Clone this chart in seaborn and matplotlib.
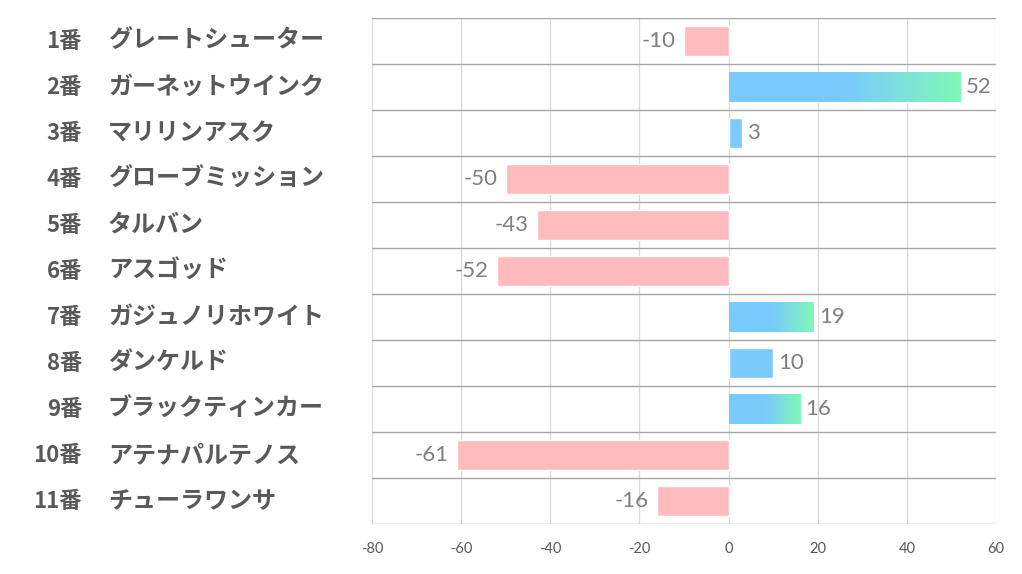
import numpy as np
import pandas as pd
import matplotlib
matplotlib.use("Agg")
import matplotlib.pyplot as plt
import seaborn as sns
from matplotlib.colors import LinearSegmentedColormap

# Data
numbers = ["1番", "2番", "3番", "4番", "5番", "6番", "7番", "8番", "9番", "10番", "11番"]
horses = ["グレートシューター", "ガーネットウインク", "マリリンアスク", "グローブミッション",
          "タルバン", "アスゴッド", "ガジュノリホワイト", "ダンケルド", "ブラックティンカー",
          "アテナパルテノス", "チューラワンサ"]
values = [-10, 52, 3, -50, -43, -52, 19, 10, 16, -61, -16]
xticks = [-80, -60, -40, -20, 0, 20, 40, 60]

sns.set_theme(style="white")
plt.rcParams["font.family"] = ["Noto Sans CJK JP", "DejaVu Sans"]

PINK = "#FFBBBD"
BLUE = "#7ACAFD"
GREEN = "#80F8B6"
LABEL_GREY = "#595959"
VALUE_GREY = "#7F7F7F"

df = pd.DataFrame({"horse": horses, "value": values})
df["sign"] = np.where(df["value"] >= 0, "pos", "neg")

fig = plt.figure(figsize=(10.22, 5.74), dpi=100)
ax = fig.add_axes([372 / 1022, 1 - 524 / 574, 624 / 1022, 506 / 574])

sns.barplot(data=df, x="value", y="horse", hue="sign", palette={"pos": BLUE, "neg": PINK},
            dodge=False, legend=False, width=0.65, saturation=1, ax=ax)

# gradient fill on the longer positive bars (blue -> green over second half)
cmap = LinearSegmentedColormap.from_list("bg", [(0, BLUE), (0.5, BLUE), (1, GREEN)])
grad = np.linspace(0, 1, 256).reshape(1, -1)
for patch in ax.patches:
    w = patch.get_width()
    if w > 12:
        x0, y0, h = patch.get_x(), patch.get_y(), patch.get_height()
        im = ax.imshow(grad, cmap=cmap, aspect="auto", extent=[x0, x0 + w, y0 + h, y0],
                       zorder=patch.get_zorder() + 0.1, interpolation="bicubic")
        im.set_clip_path(patch)

ax.set_xlim(-80, 60)
ax.set_ylim(len(horses) - 0.5, -0.5)

# grid: vertical light lines, horizontal row separators
for xv in xticks:
    ax.axvline(xv, color="#D9D9D9", lw=0.9, zorder=0)
for i in range(len(horses) + 1):
    ax.axhline(i - 0.5, color="#A6A6A6", lw=1.0, zorder=0.5)
for s in ax.spines.values():
    s.set_visible(False)

ax.set_xticks(xticks)
ax.set_xticklabels([str(t) for t in xticks], fontsize=10.5, color=LABEL_GREY,
                   family=["Lato", "DejaVu Sans"])
ax.tick_params(axis="x", length=0, pad=13)
ax.set_yticks([])
ax.set_xlabel("")
ax.set_ylabel("")

# row labels
trans = ax.get_yaxis_transform()
for i, (num, name) in enumerate(zip(numbers, horses)):
    ax.text(-290 / 624, i, num, transform=trans, ha="right", va="center",
            fontsize=16, fontweight="bold", color=LABEL_GREY)
    ax.text(-264 / 624, i, name, transform=trans, ha="left", va="center",
            fontsize=17.3, fontweight="bold", color=LABEL_GREY)

# value labels
for i, v in enumerate(values):
    off = 4 if v >= 0 else -6
    ax.annotate(str(v), (v, i), xytext=(off, 0), textcoords="offset points",
                ha="left" if v >= 0 else "right", va="center", fontsize=16,
                color=VALUE_GREY, family=["Lato", "DejaVu Sans"])

fig.savefig("out.png", dpi=100)
